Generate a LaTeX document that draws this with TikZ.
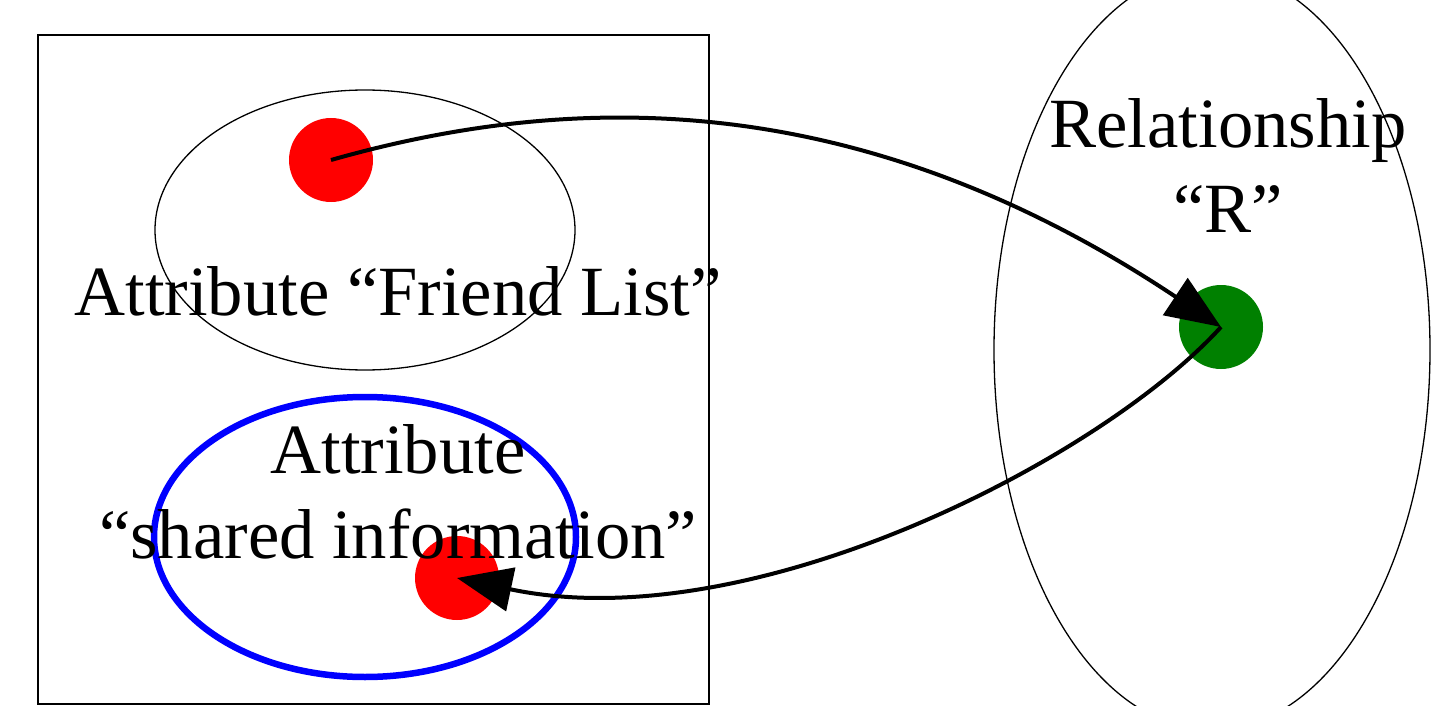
\documentclass[tikz,border=0pt]{standalone}
\usepackage{fontspec}
\setmainfont{Liberation Serif}
\usepackage{tikz}
\usetikzlibrary{arrows.meta,shapes.geometric,positioning,calc}
\definecolor{dotred}{RGB}{255,0,0}
\definecolor{dotgreen}{RGB}{0,128,0}
\definecolor{setblue}{RGB}{0,0,255}

\begin{document}
\begin{tikzpicture}[x = 1pt, y = -1pt,
  every node/.style = {inner sep = 0pt, outer sep = 0pt},
  label/.style = {font = \fontsize{70.6}{85}\selectfont, align = center, anchor = base},
  dot/.style = {circle, minimum size = 84pt},
  set/.style = {ellipse, draw, line width = 1.3pt},
  link/.style = {line width = 4pt, -{Triangle[length = 55pt, width = 44pt]}}]
\useasboundingbox (0, 0) rectangle (1433, 706);

\node[draw, line width = 1.2pt, minimum width = 671pt, minimum height = 669pt] (box) at (373.5, 369.5) {};
\node[set, minimum width = 420pt, minimum height = 280pt] (friends) at (365, 230) {};
\node[set, draw = setblue, line width = 6.5pt, minimum width = 422pt, minimum height = 280pt] (shared) at (365, 537) {};
\node[set, minimum width = 436pt, minimum height = 760pt] (rel) at (1212, 350) {};

\node[dot, fill = dotred] (F) at (331, 160) {};
\node[dot, fill = dotred] (S) at (457, 578) {};
\node[dot, fill = dotgreen] (R) at (1221, 327) {};

% base of a two-line label sits on its last line
\node[label] (Flab) at (398, 315) {Attribute “Friend List”};
\node[label] (Slab) at (398, 558) {Attribute\\“shared information”};
\node[label] (Rlab) at (1228, 232) {Relationship\\“R”};

\draw[link] (F.center) .. controls (560, 95) and (850, 80) .. (R.center);
\draw[link] (R.center) .. controls (1100, 460) and (750, 640) .. (S.center);

\end{tikzpicture}
\end{document}
